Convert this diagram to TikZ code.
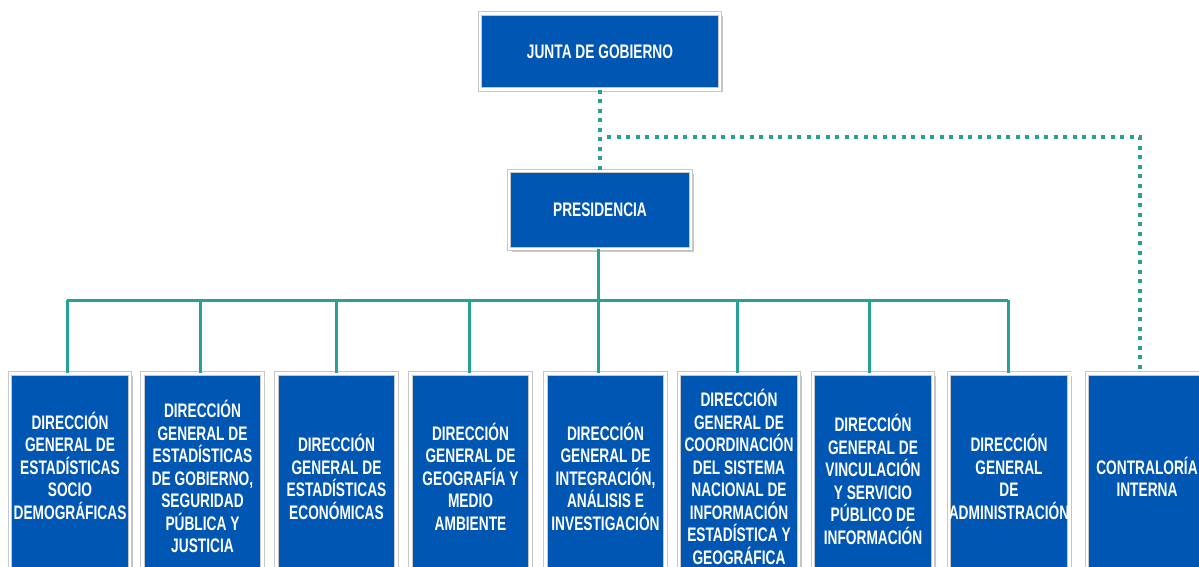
\documentclass[tikz,border=0pt]{standalone}
\usepackage{fontspec}
\setmainfont{Liberation Sans}[FakeStretch=0.7]
\usetikzlibrary{shadows}
\definecolor{azulbox}{HTML}{0056B3}
\definecolor{verdelinea}{HTML}{27A096}

\begin{document}
\begin{tikzpicture}[x=0.5pt, y=-0.5pt,
  bluenode/.style={rectangle, fill=azulbox, draw=black!22, double=white, double distance=1.3pt, line width=0.4pt,
    text=white, align=center, inner sep=0pt,
    font=\bfseries\fontsize{9.8}{11.25}\selectfont,
    drop shadow={shadow xshift=1.4pt, shadow yshift=-1.4pt, fill=black!45}},
  dirnode/.style={bluenode, minimum width=60pt, minimum height=103.25pt},
  solidline/.style={draw=verdelinea, line width=1.5pt},
  dottedline/.style={draw=verdelinea, line width=2pt, dash pattern=on 2pt off 2.75pt},
]

\useasboundingbox (0,0) rectangle (1199,567);
\clip (0,0) rectangle (1199,567);

\node[bluenode, minimum width=120pt, minimum height=38pt] (junta) at (600,51.5) {JUNTA DE GOBIERNO};
\node[bluenode, minimum width=91pt, minimum height=39pt] (pres) at (600,210) {PRESIDENCIA};

\node[dirnode] (d1) at (70,476.75) {DIRECCIÓN\\GENERAL DE\\ESTADÍSTICAS\\SOCIO\\DEMOGRÁFICAS\\ \mbox{}};
\node[dirnode] (d2) at (202.5,476.75) {DIRECCIÓN\\GENERAL DE\\ESTADÍSTICAS\\DE GOBIERNO,\\SEGURIDAD\\PÚBLICA Y\\JUSTICIA};
\node[dirnode] (d3) at (336.5,476.75) {DIRECCIÓN\\GENERAL DE\\ESTADÍSTICAS\\ECONÓMICAS};
\node[dirnode] (d4) at (470.5,476.75) {DIRECCIÓN\\GENERAL DE\\GEOGRAFÍA Y\\MEDIO\\AMBIENTE};
\node[dirnode] (d5) at (605.5,476.75) {DIRECCIÓN\\GENERAL DE\\INTEGRACIÓN,\\ANÁLISIS E\\INVESTIGACIÓN};
\node[dirnode] (d6) at (739,476.75) {DIRECCIÓN\\GENERAL DE\\COORDINACIÓN\\DEL SISTEMA\\NACIONAL DE\\INFORMACIÓN\\ESTADÍSTICA Y\\GEOGRÁFICA};
\node[dirnode] (d7) at (873,476.75) {\mbox{}\\DIRECCIÓN\\GENERAL DE\\VINCULACIÓN\\Y SERVICIO\\PÚBLICO DE\\INFORMACIÓN};
\node[dirnode] (d8) at (1009,476.75) {DIRECCIÓN\\GENERAL\\DE\\ADMINISTRACIÓN};
\node[dirnode] (contra) at (1147,476.75) {CONTRALORÍA\\INTERNA};

% dotted lines
\coordinate (rama) at (607,137.5);
\coordinate (esq) at (1140,137.5);
\draw[dottedline] (junta.south) -- (pres.north);
\draw[dottedline] (rama) -- (esq) -- (esq |- contra.north);

% solid lines
\coordinate (b1) at (67,300);
\coordinate (b2) at (200,300);
\coordinate (b3) at (336,300);
\coordinate (b4) at (469,300);
\coordinate (b5) at (598,300);
\coordinate (b6) at (737,300);
\coordinate (b7) at (869,300);
\coordinate (b8) at (1008,300);

\draw[solidline] (b5 |- pres.south) -- (b5);
\draw[solidline] (b1) -- (b8);
\draw[solidline] (b1) -- (b1 |- d1.north);
\draw[solidline] (b2) -- (b2 |- d2.north);
\draw[solidline] (b3) -- (b3 |- d3.north);
\draw[solidline] (b4) -- (b4 |- d4.north);
\draw[solidline] (b5) -- (b5 |- d5.north);
\draw[solidline] (b6) -- (b6 |- d6.north);
\draw[solidline] (b7) -- (b7 |- d7.north);
\draw[solidline] (b8) -- (b8 |- d8.north);

\end{tikzpicture}
\end{document}
